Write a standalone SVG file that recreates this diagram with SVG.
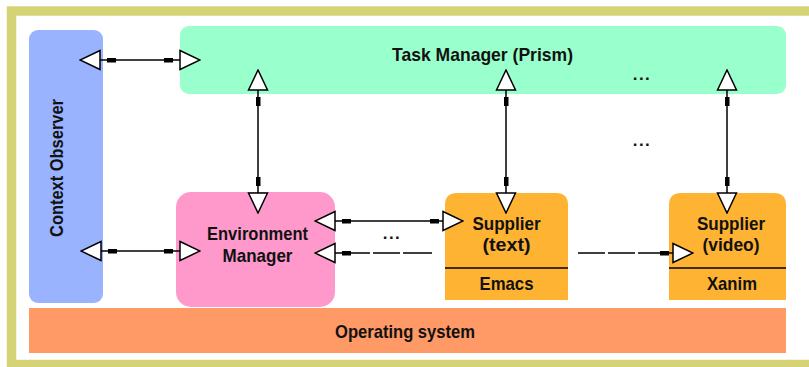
<svg xmlns="http://www.w3.org/2000/svg" width="809" height="367" viewBox="0 0 809 367">
<defs>
<style>
.t{font-family:"Liberation Sans",Arial,sans-serif;font-weight:bold;font-size:19px;fill:#111;text-anchor:middle}
.d{font-family:"Liberation Sans",Arial,sans-serif;font-weight:bold;font-size:17px;fill:#111;text-anchor:middle;letter-spacing:1.5px}
.c{fill:none;stroke:#000;stroke-width:1.5}
.b{fill:#000}
.div{stroke:#000;stroke-width:1.5}
</style>
<marker id="ah" viewBox="0 0 22 22" refX="21" refY="11" markerWidth="22" markerHeight="22" markerUnits="userSpaceOnUse" orient="auto-start-reverse">
<path d="M1,1.5 L21,11 L1,20.5 Z" fill="#fff" stroke="#000" stroke-width="1.5"/>
</marker>
</defs>
<rect x="0" y="0" width="809" height="367" fill="#fff"/>
<rect x="11.5" y="11" width="810" height="353.5" fill="#fff" stroke="#d6d377" stroke-width="9.5"/>

<g id="context-observer">
<rect x="29" y="30" width="74" height="273" rx="9" fill="#99b3ff"/>
<text class="t" transform="translate(63,168) rotate(-90)" textLength="138" lengthAdjust="spacingAndGlyphs">Context Observer</text>
</g>
<g id="task-manager">
<rect x="180" y="26" width="606" height="68" rx="9" fill="#99ffcc"/>
<text class="t" x="482.5" y="61" textLength="181" lengthAdjust="spacingAndGlyphs">Task Manager (Prism)</text>
<text class="d" x="642" y="80">...</text>
</g>
<g id="environment-manager">
<rect x="176" y="192" width="159" height="115" rx="15" fill="#ff99cc"/>
<text class="t" x="257.5" y="240" textLength="101" lengthAdjust="spacingAndGlyphs">Environment</text>
<text class="t" x="257.5" y="262" textLength="70" lengthAdjust="spacingAndGlyphs">Manager</text>
</g>
<g id="supplier-text">
<path d="M445,300 V205 Q445,193 457,193 H556 Q568,193 568,205 V300 Z" fill="#ffb333"/>
<line class="div" x1="445" y1="268" x2="568" y2="268"/>
<text class="t" x="506.5" y="230" textLength="68" lengthAdjust="spacingAndGlyphs">Supplier</text>
<text class="t" x="506.5" y="251" textLength="48" lengthAdjust="spacingAndGlyphs">(text)</text>
<text class="t" x="506.5" y="290" textLength="54" lengthAdjust="spacingAndGlyphs">Emacs</text>
</g>
<g id="supplier-video">
<path d="M669,300 V205 Q669,193 681,193 H774 Q786,193 786,205 V300 Z" fill="#ffb333"/>
<line class="div" x1="669" y1="268" x2="786" y2="268"/>
<text class="t" x="731" y="230" textLength="68" lengthAdjust="spacingAndGlyphs">Supplier</text>
<text class="t" x="731" y="251" textLength="57" lengthAdjust="spacingAndGlyphs">(video)</text>
<text class="t" x="732" y="290" textLength="50" lengthAdjust="spacingAndGlyphs">Xanim</text>
</g>
<g id="operating-system">
<rect x="29" y="308" width="757" height="45" fill="#ff9966"/>
<text class="t" x="405" y="338" textLength="140" lengthAdjust="spacingAndGlyphs">Operating system</text>
</g>
<g id="ellipses">
<text class="d" x="642" y="146">...</text>
<text class="d" x="392" y="239">...</text>
</g>

<g id="connectors">
<path class="c" d="M80,60 H200" marker-start="url(#ah)" marker-end="url(#ah)"/>
<rect class="b" x="107" y="58" width="9" height="4.5"/>
<rect class="b" x="164" y="58" width="9" height="4.5"/>

<path class="c" d="M81,251 H200" marker-start="url(#ah)" marker-end="url(#ah)"/>
<rect class="b" x="108" y="249" width="9" height="4.5"/>
<rect class="b" x="164" y="249" width="9" height="4.5"/>

<path class="c" d="M258,70 V213" marker-start="url(#ah)" marker-end="url(#ah)"/>
<rect class="b" x="256" y="97" width="4.5" height="9"/>
<rect class="b" x="256" y="177" width="4.5" height="9"/>

<path class="c" d="M506,70 V213" marker-start="url(#ah)" marker-end="url(#ah)"/>
<rect class="b" x="504" y="97" width="4.5" height="9"/>
<rect class="b" x="504" y="177" width="4.5" height="9"/>

<path class="c" d="M727,70 V213" marker-start="url(#ah)" marker-end="url(#ah)"/>
<rect class="b" x="725" y="97" width="4.5" height="9"/>
<rect class="b" x="725" y="177" width="4.5" height="9"/>

<path class="c" d="M315,221 H463" marker-start="url(#ah)" marker-end="url(#ah)"/>
<rect class="b" x="342" y="219" width="9" height="4.5"/>
<rect class="b" x="430" y="219" width="9" height="4.5"/>

<path class="c" d="M315,253 H370 M373,253 H400 M403,253 H432" marker-start="url(#ah)"/>
<rect class="b" x="342" y="251" width="9" height="4.5"/>

<path class="c" d="M578,253 H605 M608,253 H635 M638,253 H693" marker-end="url(#ah)"/>
<rect class="b" x="660" y="251" width="9" height="4.5"/>
</g>
</svg>
